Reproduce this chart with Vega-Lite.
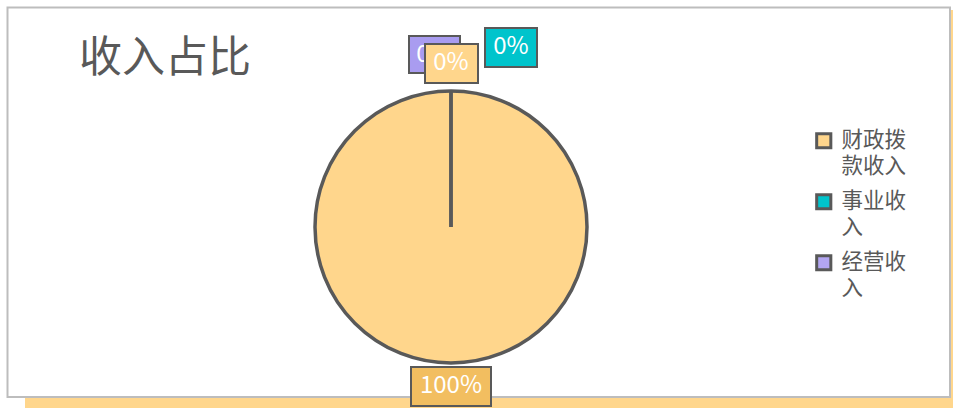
{
  "$schema": "https://vega.github.io/schema/vega-lite/v6.json",
  "width": 902,
  "height": 362,
  "autosize": {"type": "none"},
  "padding": {"left": 0, "top": 46, "right": 51, "bottom": 0},
  "background": "#ffffff",
  "config": {
    "view": {"stroke": null},
    "font": "Noto Sans CJK SC",
    "text": {"font": "Noto Sans CJK SC"}
  },
  "data": {"values": [
    {"cat": "财政拨款收入", "value": 100},
    {"cat": "事业收入", "value": 0},
    {"cat": "经营收入", "value": 0}
  ]},
  "layer": [
    {
      "data": {"values": [{"part": "shadow"}]},
      "mark": {"type": "rect", "fill": "#FFD68C"},
      "encoding": {
        "x": {"datum": -426, "type": "quantitative", "scale": {"domain": [-451, 451], "nice": false, "zero": false}, "axis": null},
        "x2": {"datum": 509},
        "y": {"datum": 217, "type": "quantitative", "scale": {"domain": [-181, 181], "nice": false, "zero": false}, "axis": null},
        "y2": {"datum": -193}
      }
    },
    {
      "data": {"values": [{"part": "panel"}]},
      "mark": {"type": "rect", "fill": "#ffffff", "stroke": "#BDBDBD", "strokeWidth": 2},
      "encoding": {
        "x": {"datum": -443.5, "type": "quantitative", "scale": {"domain": [-451, 451], "nice": false, "zero": false}, "axis": null},
        "x2": {"datum": 499},
        "y": {"datum": 219.5, "type": "quantitative", "scale": {"domain": [-181, 181], "nice": false, "zero": false}, "axis": null},
        "y2": {"datum": -170}
      }
    },
    {
      "data": {"values": [{"title": "收入占比"}]},
      "mark": {"type": "text", "fontSize": 43, "color": "#595959", "align": "center", "baseline": "middle", "font": "Noto Sans CJK SC"},
      "encoding": {
        "x": {"datum": -286, "type": "quantitative", "scale": {"domain": [-451, 451], "nice": false, "zero": false}, "axis": null},
        "y": {"datum": 168, "type": "quantitative", "scale": {"domain": [-181, 181], "nice": false, "zero": false}, "axis": null},
        "text": {"field": "title"}
      }
    },
    {
      "mark": {"type": "arc", "outerRadius": 136, "stroke": "#595959", "strokeWidth": 3.5},
      "encoding": {
        "theta": {"field": "value", "type": "quantitative", "stack": true},
        "color": {
          "field": "cat",
          "type": "nominal",
          "scale": {"domain": ["财政拨款收入", "事业收入", "经营收入"], "range": ["#FFD68C", "#00C4CC", "#B3A6F2"]},
          "legend": {
            "title": null,
            "orient": "none",
            "legendX": 813,
            "legendY": 84,
            "padding": 0,
            "symbolType": "square",
            "symbolSize": 200,
            "symbolStrokeColor": "#595959",
            "symbolStrokeWidth": 3,
            "labelFont": "Noto Sans CJK SC",
            "labelFontSize": 21.5,
            "labelColor": "#595959",
            "labelLimit": 200,
            "labelOffset": 7,
            "rowPadding": 10,
            "labelExpr": "[substring(datum.label, 0, 3), substring(datum.label, 3)]",
            "encode": {"labels": {"update": {"lineHeight": {"value": 26}}}}
          }
        }
      }
    },
    {
      "data": {"values": [{"cat": "经营收入", "label": "0%"}]},
      "layer": [
        {
          "mark": {"type": "rect", "fill": "#A99CF0", "stroke": "#595959", "strokeWidth": 2},
          "encoding": {
            "x": {"datum": -42, "type": "quantitative", "scale": {"domain": [-451, 451], "nice": false, "zero": false}, "axis": null},
            "x2": {"datum": 9},
            "y": {"datum": 191, "type": "quantitative", "scale": {"domain": [-181, 181], "nice": false, "zero": false}, "axis": null},
            "y2": {"datum": 154}
          }
        },
        {
          "mark": {"type": "text", "fontSize": 24, "color": "#ffffff", "align": "center", "baseline": "middle"},
          "encoding": {
            "x": {"datum": -17, "type": "quantitative", "scale": {"domain": [-451, 451], "nice": false, "zero": false}, "axis": null},
            "y": {"datum": 172, "type": "quantitative", "scale": {"domain": [-181, 181], "nice": false, "zero": false}, "axis": null},
            "text": {"field": "label"}
          }
        }
      ]
    },
    {
      "data": {"values": [{"cat": "其他", "label": "0%"}]},
      "layer": [
        {
          "mark": {"type": "rect", "fill": "#FFD68C", "stroke": "#595959", "strokeWidth": 2},
          "encoding": {
            "x": {"datum": -26, "type": "quantitative", "scale": {"domain": [-451, 451], "nice": false, "zero": false}, "axis": null},
            "x2": {"datum": 27},
            "y": {"datum": 183, "type": "quantitative", "scale": {"domain": [-181, 181], "nice": false, "zero": false}, "axis": null},
            "y2": {"datum": 144}
          }
        },
        {
          "mark": {"type": "text", "fontSize": 24, "color": "#ffffff", "align": "center", "baseline": "middle"},
          "encoding": {
            "x": {"datum": 0, "type": "quantitative", "scale": {"domain": [-451, 451], "nice": false, "zero": false}, "axis": null},
            "y": {"datum": 164, "type": "quantitative", "scale": {"domain": [-181, 181], "nice": false, "zero": false}, "axis": null},
            "text": {"field": "label"}
          }
        }
      ]
    },
    {
      "data": {"values": [{"cat": "事业收入", "label": "0%"}]},
      "layer": [
        {
          "mark": {"type": "rect", "fill": "#00C4CC", "stroke": "#595959", "strokeWidth": 2},
          "encoding": {
            "x": {"datum": 34, "type": "quantitative", "scale": {"domain": [-451, 451], "nice": false, "zero": false}, "axis": null},
            "x2": {"datum": 86},
            "y": {"datum": 199, "type": "quantitative", "scale": {"domain": [-181, 181], "nice": false, "zero": false}, "axis": null},
            "y2": {"datum": 160}
          }
        },
        {
          "mark": {"type": "text", "fontSize": 24, "color": "#ffffff", "align": "center", "baseline": "middle"},
          "encoding": {
            "x": {"datum": 60, "type": "quantitative", "scale": {"domain": [-451, 451], "nice": false, "zero": false}, "axis": null},
            "y": {"datum": 180, "type": "quantitative", "scale": {"domain": [-181, 181], "nice": false, "zero": false}, "axis": null},
            "text": {"field": "label"}
          }
        }
      ]
    },
    {
      "data": {"values": [{"cat": "财政拨款收入", "label": "100%"}]},
      "layer": [
        {
          "mark": {"type": "rect", "fill": "#F2BE60", "stroke": "#595959", "strokeWidth": 2},
          "encoding": {
            "x": {"datum": -40, "type": "quantitative", "scale": {"domain": [-451, 451], "nice": false, "zero": false}, "axis": null},
            "x2": {"datum": 40},
            "y": {"datum": -140, "type": "quantitative", "scale": {"domain": [-181, 181], "nice": false, "zero": false}, "axis": null},
            "y2": {"datum": -179}
          }
        },
        {
          "mark": {"type": "text", "fontSize": 24, "color": "#ffffff", "align": "center", "baseline": "middle"},
          "encoding": {
            "x": {"datum": 0, "type": "quantitative", "scale": {"domain": [-451, 451], "nice": false, "zero": false}, "axis": null},
            "y": {"datum": -159, "type": "quantitative", "scale": {"domain": [-181, 181], "nice": false, "zero": false}, "axis": null},
            "text": {"field": "label"}
          }
        }
      ]
    }
  ]
}
